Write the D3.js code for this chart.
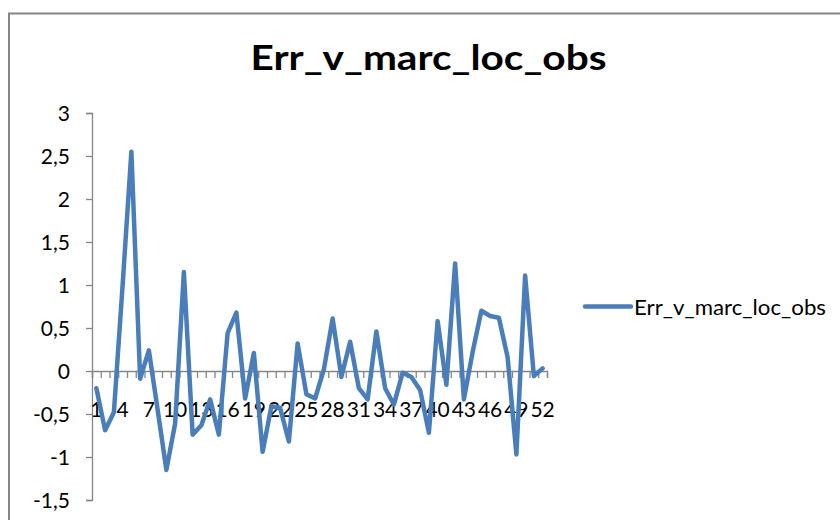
<!DOCTYPE html>
<html>
<head>
<meta charset="utf-8">
<script src="https://cdn.jsdelivr.net/npm/d3@7"></script>
<style>
  html, body { margin: 0; padding: 0; background: #fff; }
  svg { display: block; }
  text { font-family: Lato, "Open Sans", sans-serif; fill: #000; }
</style>
</head>
<body>
<svg id="chart" width="840" height="520"></svg>
<script>
const title = "Err_v_marc_loc_obs";
const seriesName = "Err_v_marc_loc_obs";
const categories = d3.range(1, 53);
const values = [-0.20, -0.69, -0.48, 1.00, 2.55, -0.09, 0.24, -0.45, -1.15, -0.61,
                1.15, -0.74, -0.63, -0.33, -0.74, 0.44, 0.68, -0.32, 0.21, -0.94,
                -0.41, -0.43, -0.82, 0.32, -0.27, -0.32, 0.02, 0.61, -0.07, 0.34,
                -0.20, -0.33, 0.46, -0.20, -0.39, -0.02, -0.07, -0.22, -0.72, 0.58,
                -0.16, 1.25, -0.33, 0.22, 0.70, 0.64, 0.62, 0.16, -0.97, 1.11,
                -0.06, 0.03];
const yTicks = [-1.5, -1, -0.5, 0, 0.5, 1, 1.5, 2, 2.5, 3];
const xLabelEvery = 3;

const svg = d3.select("#chart");
const axisColor = "#868686";
const lineColor = "#4A7EBB";

// chart border (left + top)
svg.append("path")
  .attr("d", "M9,520 V13.5 H840")
  .attr("fill", "none")
  .attr("stroke", axisColor)
  .attr("stroke-width", 2);

const plot = { left: 92, right: 547, top: 113, bottom: 500 };

const x = d3.scaleBand().domain(categories).range([plot.left, plot.right]).padding(0);
const y = d3.scaleLinear().domain([-1.5, 3]).range([plot.bottom, plot.top]);

// Y axis
const yAxis = svg.append("g")
  .attr("transform", `translate(${plot.left},0)`)
  .call(d3.axisLeft(y).tickValues(yTicks).tickSize(6).tickPadding(16)
        .tickFormat(d => String(d).replace(".", ",")));
yAxis.select(".domain").attr("stroke", axisColor).attr("stroke-width", 1.3);
yAxis.selectAll(".tick line").attr("stroke", axisColor).attr("stroke-width", 1.3);
yAxis.selectAll(".tick text").style("font-size", "21px").attr("fill", "#000").attr("dy", "0.36em");

// X axis at zero: boundary tick marks
const xb = d3.scaleLinear().domain([0, categories.length]).range([plot.left, plot.right]);
const xTickAxis = svg.append("g")
  .attr("transform", `translate(0,${y(0)})`)
  .call(d3.axisBottom(xb).tickValues(d3.range(0, categories.length + 1)).tickSize(7).tickFormat(""));
xTickAxis.select(".domain").attr("stroke", axisColor).attr("stroke-width", 1.3);
xTickAxis.selectAll(".tick line").attr("stroke", axisColor).attr("stroke-width", 1.3);

// X labels
const xLabAxis = svg.append("g")
  .attr("transform", `translate(0,${y(0)})`)
  .call(d3.axisBottom(x)
        .tickValues(categories.filter((d, i) => i % xLabelEvery === 0))
        .tickSize(0).tickPadding(0));
xLabAxis.select(".domain").remove();
xLabAxis.selectAll(".tick text")
  .attr("y", 46).attr("dy", null)
  .style("font-size", "21px").attr("fill", "#000");

// Line
const line = d3.line()
  .x((d, i) => x(categories[i]) + x.bandwidth() / 2)
  .y(d => y(d));
svg.append("path")
  .datum(values)
  .attr("d", line)
  .attr("fill", "none")
  .attr("stroke", lineColor)
  .attr("stroke-width", 4.5)
  .attr("stroke-linejoin", "round")
  .attr("stroke-linecap", "round");

// Title
svg.append("text")
  .attr("x", 428.5).attr("y", 70)
  .attr("text-anchor", "middle")
  .attr("textLength", 356).attr("lengthAdjust", "spacingAndGlyphs")
  .style("font-size", "35px").style("font-weight", "bold")
  .text(title);

// Legend
svg.append("line")
  .attr("x1", 585).attr("x2", 631).attr("y1", 306.5).attr("y2", 306.5)
  .attr("stroke", lineColor).attr("stroke-width", 4.5).attr("stroke-linecap", "round");
svg.append("text")
  .attr("x", 634).attr("y", 315)
  .attr("textLength", 192).attr("lengthAdjust", "spacingAndGlyphs")
  .style("font-size", "21px")
  .text(seriesName);
</script>
</body>
</html>
